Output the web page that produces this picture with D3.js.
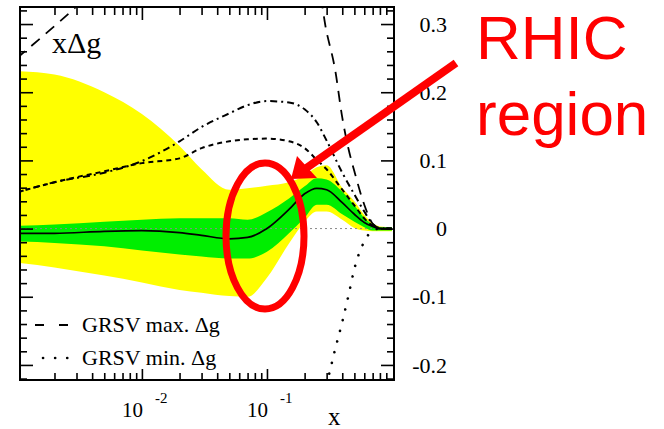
<!DOCTYPE html>
<html>
<head>
    <meta charset="utf-8" />
    <script src="https://d3js.org/d3.v7.min.js"></script>
    <style>
        body { margin: 0; background: #fff; }
        svg { display: block; }
        .serif { font-family: "Liberation Serif", "DejaVu Serif", serif; fill: #000; }
    </style>
</head>
<body>
    <svg width="664" height="429"></svg>

    <script>
        // x grid shared by the bands and the fit curves
        var xs = [0.001, 0.002, 0.005, 0.01, 0.02, 0.03, 0.05, 0.07, 0.1, 0.15, 0.2, 0.25, 0.3, 0.4, 0.5, 0.6, 0.7, 0.8, 1.0];
        var central = [-0.007, -0.007, -0.004, -0.003, -0.006, -0.010, -0.015, -0.013, 0.000, 0.028, 0.051, 0.059, 0.057, 0.038, 0.021, 0.009, 0.003, 0.000, 0.000];
        var greenHi = [0.004, 0.006, 0.010, 0.013, 0.015, 0.015, 0.015, 0.013, 0.024, 0.044, 0.062, 0.074, 0.072, 0.054, 0.034, 0.016, 0.006, 0.002, 0.002];
        var greenLo = [-0.019, -0.021, -0.026, -0.032, -0.038, -0.041, -0.044, -0.044, -0.034, -0.007, 0.016, 0.035, 0.035, 0.021, 0.010, 0.002, -0.003, -0.003, -0.003];
        var yellowHi = [0.231, 0.226, 0.200, 0.168, 0.121, 0.087, 0.057, 0.059, 0.063, 0.068, 0.078, 0.090, 0.093, 0.060, 0.040, 0.020, 0.008, 0.003, 0.002];
        var yellowLo = [-0.050, -0.057, -0.069, -0.079, -0.090, -0.094, -0.099, -0.100, -0.072, -0.022, 0.010, 0.025, 0.025, 0.013, 0.001, -0.003, -0.004, -0.004, -0.004];
        var dotDash = [0.053, 0.068, 0.082, 0.099, 0.128, 0.149, 0.169, 0.181, 0.187, 0.185, 0.175, 0.156, 0.129, 0.082, 0.050, 0.025, 0.007, 0.001, 0.000];
        var dashed = [0.053, 0.068, 0.084, 0.096, 0.103, 0.118, 0.128, 0.131, 0.132, 0.128, 0.118, 0.101, 0.087, 0.057, 0.034, 0.015, 0.004, 0.000, 0.000];

        // GRSV max / min scenarios
        var grsvMaxX = [0.001, 0.002, 0.003, 0.004, 0.25, 0.3, 0.35, 0.4, 0.45, 0.5, 0.6, 0.7, 0.8, 1.0];
        var grsvMaxY = [0.250, 0.297, 0.326, 0.350, 0.360, 0.288, 0.234, 0.163, 0.116, 0.084, 0.035, 0.007, 0.000, 0.000];
        var grsvMinX = [0.3, 0.35, 0.4, 0.45, 0.5, 0.6, 0.7, 0.8, 1.0];
        var grsvMinY = [-0.229, -0.178, -0.137, -0.097, -0.059, -0.019, -0.003, 0.000, 0.000];

        // ticks and labels
        var yMajor = [-0.2, -0.1, 0, 0.1, 0.2, 0.3];
        var yLabels = ["-0.2", "-0.1", "0", "0.1", "0.2", "0.3"];
        var xMajor = [0.01, 0.1];
        var xExponents = ["-2", "-1"];
        var legendLabels = ["GRSV max. \u0394g", "GRSV min. \u0394g"];
        var noteLines = ["RHIC", "region"];

        var svg = d3.select("svg");
        var pLeft = 20, pRight = 394, pTop = 7, pBottom = 380;

        var x = d3.scaleLog().domain([0.00106, 1.037]).range([pLeft, pRight]);
        var y = d3.scaleLinear().domain([-0.2221, 0.325]).range([pBottom, pTop]);

        svg.append("defs").append("clipPath").attr("id", "plot")
            .append("rect")
            .attr("x", pLeft).attr("y", pTop)
            .attr("width", pRight - pLeft).attr("height", pBottom - pTop);

        var plot = svg.append("g").attr("clip-path", "url(#plot)");

        var rows = xs.map(function (d, i) {
            return { x: d, c: central[i], gh: greenHi[i], gl: greenLo[i], yh: yellowHi[i], yl: yellowLo[i], dd: dotDash[i], ds: dashed[i] };
        });

        var band = function (hi, lo) {
            return d3.area()
                .x(function (d) { return x(d.x); })
                .y0(function (d) { return y(d[lo]); })
                .y1(function (d) { return y(d[hi]); })
                .curve(d3.curveMonotoneX);
        };

        plot.append("path").attr("d", band("yh", "yl")(rows)).attr("fill", "#ffff00");
        plot.append("path").attr("d", band("gh", "gl")(rows)).attr("fill", "#00ee00");

        // zero line
        plot.append("line")
            .attr("x1", pLeft).attr("x2", pRight)
            .attr("y1", y(0)).attr("y2", y(0))
            .attr("stroke", "#888").attr("stroke-width", 1)
            .attr("stroke-dasharray", "2,3");

        var curve = function (key) {
            return d3.line()
                .x(function (d) { return x(d.x); })
                .y(function (d) { return y(d[key]); })
                .curve(d3.curveMonotoneX);
        };

        plot.append("path").attr("d", curve("c")(rows))
            .attr("fill", "none").attr("stroke", "#000").attr("stroke-width", 1.7);
        plot.append("path").attr("d", curve("dd")(rows))
            .attr("fill", "none").attr("stroke", "#000").attr("stroke-width", 2)
            .attr("stroke-dasharray", "7,4,2,4");
        plot.append("path").attr("d", curve("ds")(rows))
            .attr("fill", "none").attr("stroke", "#000").attr("stroke-width", 2)
            .attr("stroke-dasharray", "5,4");

        var pts = function (xv, yv) {
            return d3.line()
                .x(function (d, i) { return x(xv[i]); })
                .y(function (d) { return y(d); })
                .curve(d3.curveMonotoneX)(yv);
        };

        plot.append("path").attr("d", pts(grsvMaxX, grsvMaxY))
            .attr("fill", "none").attr("stroke", "#000").attr("stroke-width", 1.8)
            .attr("stroke-dasharray", "11,8");
        plot.append("path").attr("d", pts(grsvMinX, grsvMinY))
            .attr("fill", "none").attr("stroke", "#000").attr("stroke-width", 2.6)
            .attr("stroke-linecap", "round")
            .attr("stroke-dasharray", "0.1,11");

        // frame
        svg.append("rect")
            .attr("x", pLeft).attr("y", pTop)
            .attr("width", pRight - pLeft).attr("height", pBottom - pTop)
            .attr("fill", "none").attr("stroke", "#000").attr("stroke-width", 2);

        // minor ticks
        var xMinor = [];
        [0.001, 0.01, 0.1].forEach(function (dec) {
            for (var k = 2; k <= 9; k++) xMinor.push(dec * k);
        });
        var yMinor = d3.range(-0.22, 0.33, 0.02).filter(function (v) {
            return v > -0.222 && v < 0.325 && Math.abs(Math.round(v * 10) - v * 10) > 0.01;
        });

        function tickAxis(axis, transform) {
            var g = svg.append("g").attr("transform", transform).call(axis);
            g.select(".domain").remove();
            g.selectAll("text").remove();
            g.selectAll("line").attr("stroke", "#000").attr("stroke-width", 1.6);
            return g;
        }

        tickAxis(d3.axisTop(x).tickValues(xMajor).tickSize(11), "translate(0," + pBottom + ")");
        tickAxis(d3.axisTop(x).tickValues(xMinor).tickSize(7), "translate(0," + pBottom + ")");
        tickAxis(d3.axisBottom(x).tickValues(xMajor).tickSize(13), "translate(0," + pTop + ")");
        tickAxis(d3.axisBottom(x).tickValues(xMinor).tickSize(8), "translate(0," + pTop + ")");
        tickAxis(d3.axisRight(y).tickValues(yMajor).tickSize(13), "translate(" + pLeft + ",0)");
        tickAxis(d3.axisRight(y).tickValues(yMinor).tickSize(7), "translate(" + pLeft + ",0)");
        tickAxis(d3.axisLeft(y).tickValues(yMajor).tickSize(13), "translate(" + pRight + ",0)");
        tickAxis(d3.axisLeft(y).tickValues(yMinor).tickSize(7), "translate(" + pRight + ",0)");

        // y labels on the right
        svg.selectAll(".ylab")
            .data(yMajor)
            .enter().append("text")
            .attr("class", "ylab serif")
            .attr("x", 447)
            .attr("y", function (d) { return y(d); })
            .attr("dy", "0.35em")
            .attr("text-anchor", "end")
            .style("font-size", "22px")
            .text(function (d, i) { return yLabels[i]; });

        // x labels: 10 with exponent
        var xl = svg.selectAll(".xlab")
            .data(xMajor)
            .enter().append("text")
            .attr("class", "xlab serif")
            .attr("x", function (d) { return x(d) - 20; })
            .attr("y", 417)
            .style("font-size", "21px");
        xl.append("tspan").text("10");
        xl.append("tspan")
            .attr("dx", 12).attr("dy", -14)
            .style("font-size", "15px")
            .text(function (d, i) { return xExponents[i]; });

        svg.append("text").attr("class", "serif")
            .attr("x", 328).attr("y", 425)
            .style("font-size", "25px")
            .text("x");

        svg.append("text").attr("class", "serif")
            .attr("x", 52).attr("y", 53)
            .style("font-size", "30px")
            .text("x\u0394g");

        // legend
        var leg = svg.selectAll(".leg")
            .data(legendLabels)
            .enter().append("g")
            .attr("class", "leg")
            .attr("transform", function (d, i) { return "translate(0," + (i * 33) + ")"; });
        leg.append("line")
            .attr("x1", function (d, i) { return i === 0 ? 35 : 43; })
            .attr("x2", 70)
            .attr("y1", 325).attr("y2", 325)
            .attr("stroke", "#000")
            .attr("stroke-width", function (d, i) { return i === 0 ? 1.8 : 2.6; })
            .attr("stroke-linecap", function (d, i) { return i === 0 ? "butt" : "round"; })
            .attr("stroke-dasharray", function (d, i) { return i === 0 ? "9,15" : "0.1,12"; });
        leg.append("text").attr("class", "serif")
            .attr("x", 82).attr("y", 332)
            .style("font-size", "22px")
            .text(function (d) { return d; });

        // red annotation
        var red = "#ff0000";
        svg.append("ellipse")
            .attr("cx", 265).attr("cy", 236)
            .attr("rx", 39).attr("ry", 73)
            .attr("fill", "none").attr("stroke", red).attr("stroke-width", 7);

        svg.append("line")
            .attr("x1", 456).attr("y1", 63)
            .attr("x2", 305).attr("y2", 169)
            .attr("stroke", red).attr("stroke-width", 8);
        svg.append("path")
            .attr("d", "M291,179 L297,156 L317,178 Z")
            .attr("fill", red);

        svg.selectAll(".note")
            .data(noteLines)
            .enter().append("text")
            .attr("class", "note")
            .attr("x", 476)
            .attr("y", function (d, i) { return 59 + i * 76; })
            .style("font-family", "'Liberation Sans', Arial, sans-serif")
            .style("font-size", "62px")
            .attr("fill", red)
            .text(function (d) { return d; });
    </script>
</body>
</html>
